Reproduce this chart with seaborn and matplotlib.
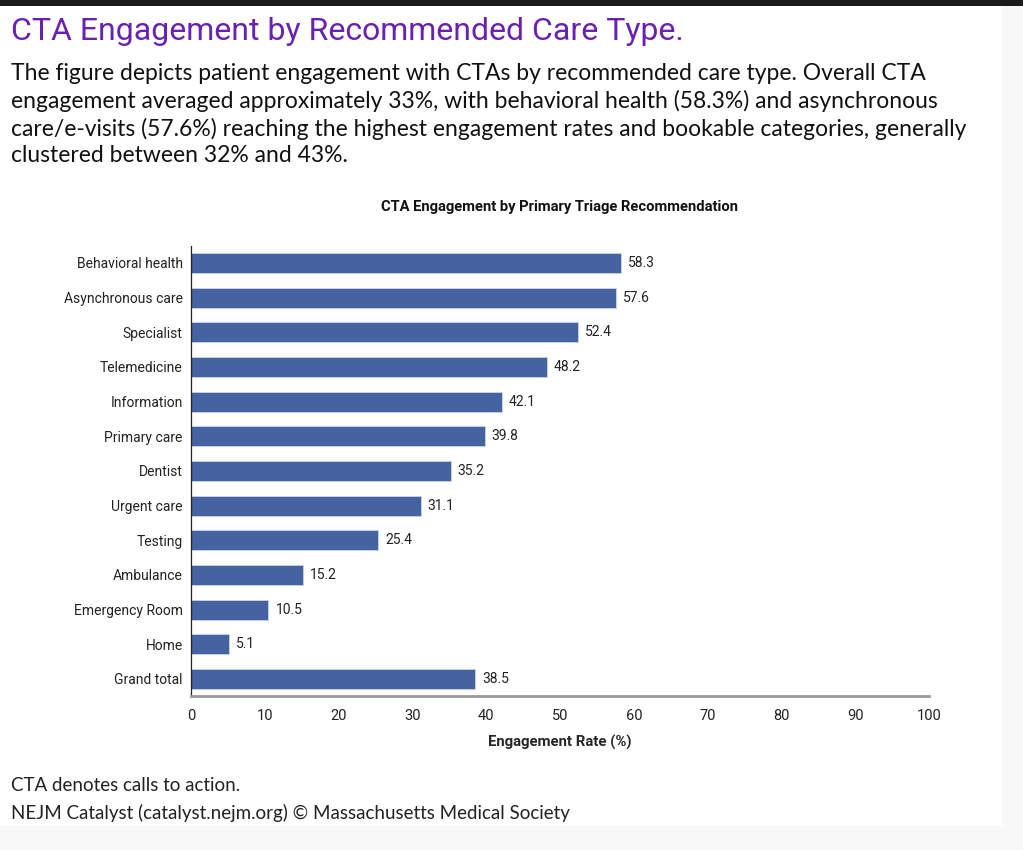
import pandas as pd
import matplotlib
matplotlib.use("Agg")
from matplotlib import pyplot as plt
from matplotlib.patches import Rectangle
import seaborn as sns

categories = ['Behavioral health', 'Asynchronous care', 'Specialist', 'Telemedicine',
              'Information', 'Primary care', 'Dentist', 'Urgent care', 'Testing',
              'Ambulance', 'Emergency Room', 'Home', 'Grand total']
rates = [58.3, 57.6, 52.4, 48.2, 42.1, 39.8, 35.2, 31.1, 25.4, 15.2, 10.5, 5.1, 38.5]
x_ticks = [0, 10, 20, 30, 40, 50, 60, 70, 80, 90, 100]

df = pd.DataFrame({'care': categories, 'rate': rates})

sns.set_style('white')
narrow = ['Liberation Sans Narrow', 'Roboto', 'DejaVu Sans']
body = ['Lato', 'DejaVu Sans']
plt.rcParams['font.family'] = narrow

fig = plt.figure(figsize=(10.23, 8.5), dpi=100)
fig.patch.set_facecolor('#f8f8f8')
# white page area, dark strip on top
fig.patches.append(Rectangle((0, 0.028), 0.979, 0.965, transform=fig.transFigure,
                             facecolor='white', edgecolor='none', zorder=-10))
fig.patches.append(Rectangle((0, 0.993), 1, 0.007, transform=fig.transFigure,
                             facecolor='#1b1b1b', edgecolor='none', zorder=-10))

ax = fig.add_axes([0.1867, 0.1808, 0.7214, 0.5302])
ax.set_facecolor('white')
sns.barplot(data=df, x='rate', y='care', orient='h', color='#4563a0',
            edgecolor='#c9d3e6', linewidth=0.6, width=0.58, saturation=1, ax=ax)
ax.bar_label(ax.containers[0], fmt='%.1f', padding=5, fontsize=10, color='#222222',
             family=narrow)

ax.set_xlim(0, 100)
ax.set_ylim(12.5, -0.5)
ax.set_xticks(x_ticks)
ax.set_xticklabels([str(t) for t in x_ticks], fontsize=10.5, color='#222222')
ax.tick_params(axis='y', length=0, labelsize=10, labelcolor='#222222', pad=6)
ax.tick_params(axis='x', length=6, width=1, color='#777777', pad=3)
ax.set_xlabel('Engagement Rate (%)', fontsize=10.7, fontweight='bold', labelpad=9)
ax.set_ylabel('')
for s in ['top', 'right']:
    ax.spines[s].set_visible(False)
ax.spines['left'].set_color('#222222')
ax.spines['left'].set_linewidth(0.9)
ax.spines['bottom'].set_color('#999999')
ax.spines['bottom'].set_linewidth(2)

fig.text(0.5474, 0.757, 'CTA Engagement by Primary Triage Recommendation',
         ha='center', va='center', fontsize=10.6, fontweight='bold', color='#111111')

fig.text(0.011, 0.963, 'CTA Engagement by Recommended Care Type.', ha='left', va='center',
         fontsize=23, color='#6b21b0')
para = ('The figure depicts patient engagement with CTAs by recommended care type. Overall CTA\n'
        'engagement averaged approximately 33%, with behavioral health (58.3%) and asynchronous\n'
        'care/e-visits (57.6%) reaching the highest engagement rates and bookable categories, generally\n'
        'clustered between 32% and 43%.')
fig.text(0.011, 0.926, para, ha='left', va='top', fontsize=16.5, color='#111111',
         family=body, linespacing=1.32)

fig.text(0.011, 0.076, 'CTA denotes calls to action.', ha='left', va='center',
         fontsize=13.5, color='#222222', family=body)
fig.text(0.011, 0.043, 'NEJM Catalyst (catalyst.nejm.org) \u00a9 Massachusetts Medical Society',
         ha='left', va='center', fontsize=13.5, color='#222222', family=body)

fig.savefig('out.png', dpi=100)
